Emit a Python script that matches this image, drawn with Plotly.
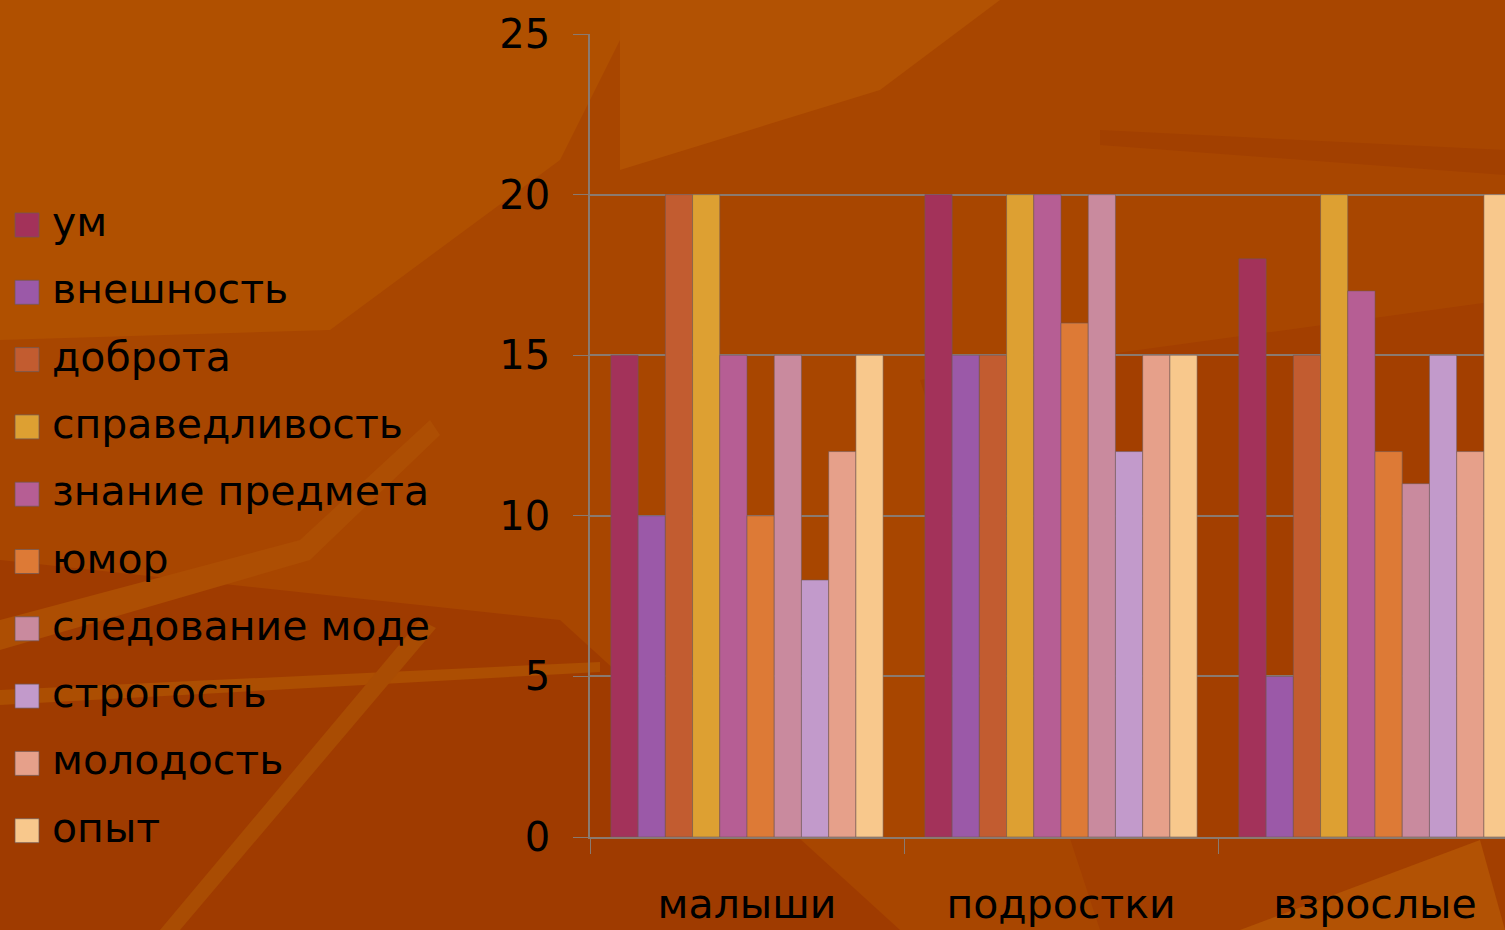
import plotly.graph_objects as go

categories = ["малыши", "подростки", "взрослые"]
series_names = ["ум", "внешность", "доброта", "справедливость", "знание предмета",
                "юмор", "следование моде", "строгость", "молодость", "опыт"]
values = {
    "ум":               [15, 20, 18],
    "внешность":        [10, 15, 5],
    "доброта":          [20, 15, 15],
    "справедливость":   [20, 20, 20],
    "знание предмета":  [15, 20, 17],
    "юмор":             [10, 16, 12],
    "следование моде":  [15, 20, 11],
    "строгость":        [8, 12, 15],
    "молодость":        [12, 15, 12],
    "опыт":             [15, 15, 20],
}
colors = ["#A3325A", "#9B59A8", "#C25C30", "#DDA032", "#B65E94",
          "#DD7A36", "#C98A9E", "#C29ACB", "#E6A08A", "#F8C88C"]
y_ticks = [0, 5, 10, 15, 20, 25]

FONT = "DejaVu Sans"
W, H, L, T, B = 1505, 930, 590, 34, 93
pw, ph = W - L, H - T - B

def P(px, py):
    return ((px - L) / pw, (H - B - py) / ph)

fig = go.Figure()
for i, name in enumerate(series_names):
    fig.add_trace(go.Bar(
        x=categories, y=values[name], name=name, showlegend=False,
        marker=dict(color=colors[i], line=dict(color="rgba(110,90,90,0.55)", width=1)),
    ))

# background texture (decorative)
shapes = []
def poly(pts, color):
    path = "M " + " L ".join(f"{x},{y}" for x, y in (P(a, b) for a, b in pts)) + " Z"
    return dict(type="path", xref="paper", yref="paper", path=path,
                fillcolor=color, line=dict(width=0), layer="below")

shapes.append(poly([(0, 0), (1505, 0), (1505, 930), (0, 930)], "#A84600"))
shapes.append(poly([(0, 0), (640, 0), (560, 160), (330, 330), (0, 340)], "#B05000"))
shapes.append(poly([(0, 560), (560, 620), (900, 930), (0, 930)], "#9F3B00"))
shapes.append(poly([(920, 380), (1505, 300), (1505, 930), (1100, 930)], "#A33F00"))
shapes.append(poly([(620, 0), (1000, 0), (880, 90), (620, 170)], "#B25203"))
shapes.append(poly([(0, 620), (300, 540), (430, 420), (440, 435), (310, 560), (0, 650)], "#AD4E03"))
shapes.append(poly([(0, 690), (600, 662), (600, 672), (0, 705)], "#AC4E02"))
shapes.append(poly([(160, 930), (420, 620), (436, 628), (180, 930)], "#A94C03"))
shapes.append(poly([(1240, 930), (1480, 840), (1505, 930)], "#B25204"))
shapes.append(poly([(1100, 130), (1505, 150), (1505, 175), (1100, 145)], "#A24000"))

# legend drawn manually (squares + text)
annotations = []
for i, name in enumerate(series_names):
    cy = 225 + 67.3 * i
    x0, y0 = P(15, cy - 12)
    x1, y1 = P(39, cy + 12)
    shapes.append(dict(type="rect", xref="paper", yref="paper", x0=x0, x1=x1, y0=y0, y1=y1,
                       fillcolor=colors[i], line=dict(color="rgba(110,90,90,0.7)", width=1)))
    tx, ty = P(50, cy - 3)
    annotations.append(dict(xref="paper", yref="paper", x=tx, y=ty, xanchor="left",
                            yanchor="middle", text=name, showarrow=False,
                            font=dict(family=FONT, size=41, color="#000000")))

fig.update_layout(
    width=W, height=H,
    margin=dict(l=L, r=0, t=T, b=B),
    paper_bgcolor="#A84600",
    plot_bgcolor="rgba(0,0,0,0)",
    barmode="group", bargap=0.133, bargroupgap=0,
    font=dict(family=FONT, size=41, color="#000000"),
    shapes=shapes, annotations=annotations,
    showlegend=False,
    xaxis=dict(
        range=[-0.5, 2.414], showgrid=False, showline=True,
        linecolor="#8A7A70", linewidth=1.5,
        ticks="outside", tickson="boundaries", ticklen=15, tickcolor="#8A7A70",
        ticklabelstandoff=30, tickfont=dict(size=41),
    ),
    yaxis=dict(
        range=[0, 25], tickvals=y_ticks, showgrid=True, gridcolor="#8A7A70", gridwidth=1.5,
        showline=True, linecolor="#8A7A70", linewidth=1.5, zeroline=False,
        ticks="outside", ticklen=15, tickcolor="#8A7A70",
        ticklabelstandoff=15, tickfont=dict(size=40),
    ),
)
fig.write_html("out.html", config={"displayModeBar": False},
               post_script="document.body.style.margin='0';")
